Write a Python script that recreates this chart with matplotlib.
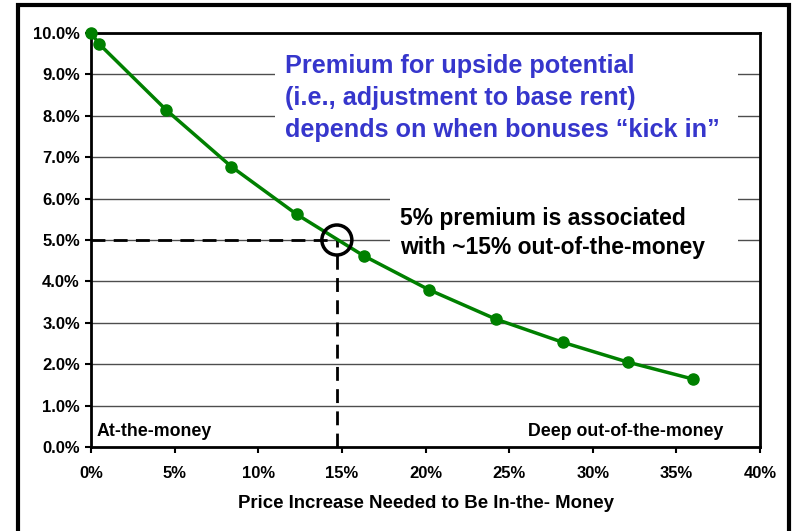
import matplotlib.pyplot as plt
from matplotlib.patches import Rectangle, Ellipse
from matplotlib.ticker import FuncFormatter

plt.rcParams['font.family'] = ['Liberation Sans', 'DejaVu Sans']
plt.rcParams['font.weight'] = 'bold'

# data
price_increase = [0.0, 0.5, 4.5, 8.4, 12.3, 16.3, 20.2, 24.2, 28.2, 32.1, 36.0]
premium = [10.0, 9.73, 8.14, 6.77, 5.62, 4.62, 3.80, 3.09, 2.53, 2.05, 1.64]
x_ticks = [0, 5, 10, 15, 20, 25, 30, 35, 40]
y_ticks = [0, 1, 2, 3, 4, 5, 6, 7, 8, 9, 10]
target_premium = 5.0
target_increase = 14.7

fig = plt.figure(figsize=(7.92, 5.31), dpi=100)
ax = fig.add_axes([91/792, 1 - 447/531, 669/792, 414/531])

# outer frame
fig.patches.append(Rectangle((18/792, -0.05), 771/792, 1.05 - 5/531, transform=fig.transFigure,
                             fill=False, edgecolor='black', linewidth=3, zorder=0))

for y in y_ticks[1:]:
    ax.axhline(y, color='#4d4d4d', linewidth=1, zorder=1)

# white areas behind the annotations
ax.add_patch(Rectangle((11.0, 7.3), 27.7, 2.6, facecolor='white', edgecolor='none', zorder=1.5))
ax.add_patch(Rectangle((17.9, 4.6), 20.8, 1.7, facecolor='white', edgecolor='none', zorder=1.5))

ax.plot(price_increase, premium, color='#008000', linewidth=2.5, marker='o',
        markersize=8, zorder=3, clip_on=False)

ax.plot([0, target_increase], [target_premium, target_premium], color='black',
        linestyle=(0, (5, 3)), linewidth=2, zorder=2)
ax.plot([target_increase, target_increase], [0, target_premium], color='black',
        linestyle=(0, (5, 3)), linewidth=2, zorder=2)

ax.set_xlim(0, 40)
ax.set_ylim(0, 10)
circle = Ellipse((target_increase, target_premium), width=30/16.725, height=30/41.4,
                 fill=False, edgecolor='black', linewidth=2.5, zorder=4)
ax.add_patch(circle)

ax.set_xticks(x_ticks)
ax.set_yticks(y_ticks)
ax.xaxis.set_major_formatter(FuncFormatter(lambda v, p: f"{v:.0f}%"))
ax.yaxis.set_major_formatter(FuncFormatter(lambda v, p: f"{v:.1f}%"))
ax.tick_params(labelsize=12, width=1.5, length=4, pad=4)
for lbl in ax.get_xticklabels() + ax.get_yticklabels():
    lbl.set_fontweight('bold')
ax.tick_params(axis='x', pad=10)
for s in ax.spines.values():
    s.set_linewidth(2)

ax.set_xlabel("Price Increase Needed to Be In-the- Money", fontsize=13.4,
              fontweight='bold', labelpad=10)

ax.text(11.6, 8.42, "Premium for upside potential\n(i.e., adjustment to base rent)\ndepends on when bonuses \u201ckick in\u201d",
        color='#3636CC', fontsize=18.2, fontweight='bold', va='center', ha='left',
        linespacing=1.42, zorder=5)
ax.text(18.5, 5.17, "5% premium is associated\nwith ~15% out-of-the-money",
        color='black', fontsize=16.5, fontweight='bold', va='center', ha='left',
        linespacing=1.38, zorder=5)
ax.text(0.35, 0.38, "At-the-money", fontsize=12.8, fontweight='bold', va='center', ha='left')
ax.text(37.8, 0.38, "Deep out-of-the-money", fontsize=12.8, fontweight='bold', va='center', ha='right')

fig.savefig("out.png", dpi=100)
